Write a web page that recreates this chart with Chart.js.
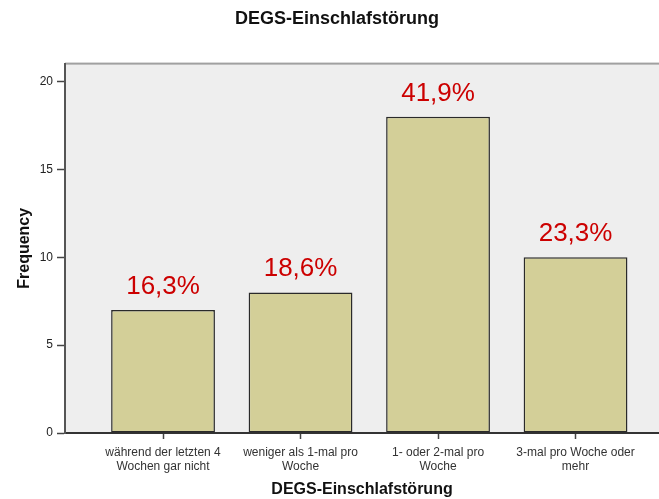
<!DOCTYPE html>
<html>
<head>
<meta charset="utf-8">
<script src="https://cdn.jsdelivr.net/npm/chart.js@4.4.1/dist/chart.umd.min.js"></script>
<style>
  html, body { margin: 0; padding: 0; background: #fff; }
  #wrap { width: 659px; height: 499px; }
</style>
</head>
<body>
<div id="wrap"><canvas id="chart"></canvas></div>
<script>
const categories = [
    ['während der letzten 4', 'Wochen gar nicht'],
    ['weniger als 1-mal pro', 'Woche'],
    ['1- oder 2-mal pro', 'Woche'],
    ['3-mal pro Woche oder', 'mehr']
];
const frequencies = [7, 8, 18, 10];
const percentLabels = ['16,3%', '18,6%', '41,9%', '23,3%'];
const yTicks = [0, 5, 10, 15, 20];

// grauer Plot-Hintergrund + obere Kante
const plotBackground = {
    id: 'plotBackground',
    beforeDraw(chart) {
        const { ctx, chartArea: a } = chart;
        ctx.save();
        ctx.fillStyle = '#eeeeee';
        ctx.fillRect(a.left, a.top, a.right - a.left, a.bottom - a.top);
        ctx.fillStyle = '#a0a0a0';
        ctx.fillRect(a.left, a.top - 1, a.right - a.left, 2);
        ctx.restore();
    }
};

// Prozentwerte über den Balken
const percentText = {
    id: 'percentText',
    afterDatasetsDraw(chart) {
        const { ctx } = chart;
        const meta = chart.getDatasetMeta(0);
        ctx.save();
        ctx.font = '26px Arial, "Liberation Sans", sans-serif';
        ctx.fillStyle = '#cc0000';
        ctx.textAlign = 'center';
        ctx.textBaseline = 'alphabetic';
        meta.data.forEach((bar, i) => {
            ctx.fillText(percentLabels[i], bar.x, bar.y - 16);
        });
        ctx.restore();
    }
};

const ctx = document.getElementById('chart').getContext('2d');
const chart = new Chart(ctx, {
    type: 'bar',
    data: {
        datasets: [{
            label: 'Frequency',
            data: frequencies.map((v, i) => ({ x: i, y: v })),
            backgroundColor: '#d3cf98',
            borderColor: '#2a2a2a',
            borderWidth: 1.5,
            borderSkipped: false,
            barPercentage: 0.755,
            categoryPercentage: 1,
        }]
    },
    options: {
        responsive: true,
        maintainAspectRatio: false,
        animation: false,
        layout: { padding: { left: 15, right: 0, top: 0, bottom: 0 } },
        plugins: {
            legend: { display: false },
            tooltip: { enabled: false },
            title: {
                display: true,
                text: 'DEGS-Einschlafstörung',
                color: '#111',
                font: { family: 'Arial, "Liberation Sans", sans-serif', size: 18, weight: 'bold' },
                padding: { top: 8, bottom: 34 }
            }
        },
        scales: {
            x: {
                type: 'linear',
                offset: false,
                min: -0.713,
                max: 3.607,
                afterBuildTicks(scale) {
                    scale.ticks = categories.map((_, i) => ({ value: i }));
                },
                afterFit(scale) { scale.height = 66; },
                grid: { offset: false, drawOnChartArea: false, color: 'transparent', tickColor: '#444', tickLength: 6, tickWidth: 1.5 },
                border: { color: '#333', width: 2 },
                ticks: {
                    autoSkip: false,
                    maxRotation: 0,
                    padding: 6,
                    color: '#333',
                    font: { family: 'Arial, "Liberation Sans", sans-serif', size: 12 },
                    callback: (v) => categories[v]
                },
                title: {
                    display: true,
                    text: 'DEGS-Einschlafstörung',
                    color: '#111',
                    font: { family: 'Arial, "Liberation Sans", sans-serif', size: 16, weight: 'bold' },
                    padding: { top: 4, bottom: 0 }
                }
            },
            y: {
                min: 0,
                max: 21.02,
                afterBuildTicks(scale) {
                    scale.ticks = yTicks.map(v => ({ value: v }));
                },
                afterFit(scale) { scale.width = 50; },
                grid: { drawOnChartArea: false, color: 'transparent', tickColor: '#444', tickLength: 8, tickWidth: 1.5 },
                border: { color: '#555', width: 2 },
                ticks: {
                    padding: 4,
                    color: '#222',
                    font: { family: 'Arial, "Liberation Sans", sans-serif', size: 12 }
                },
                title: {
                    display: true,
                    text: 'Frequency',
                    color: '#111',
                    font: { family: 'Arial, "Liberation Sans", sans-serif', size: 16, weight: 'bold' },
                    padding: { top: 0, bottom: 4 }
                }
            }
        }
    },
    plugins: [plotBackground, percentText]
});
</script>
</body>
</html>
